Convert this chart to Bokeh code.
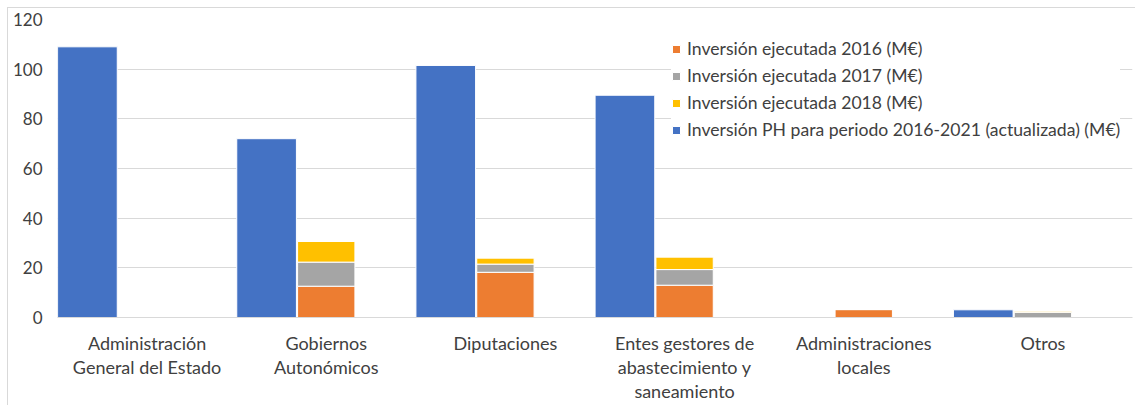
from bokeh.plotting import figure
from bokeh.models import ColumnDataSource, Legend, FactorRange
from bokeh.transform import dodge
from bokeh.embed import file_html
from bokeh.resources import INLINE

categories = ["Administración\nGeneral del Estado", "Gobiernos\nAutonómicos", "Diputaciones",
              "Entes gestores de\nabastecimiento y\nsaneamiento", "Administraciones\nlocales", "Otros"]
ph_2016_2021 = [109.0, 72.0, 101.5, 89.5, 0.0, 3.1]
ejec_2016 = [0.0, 12.6, 18.2, 13.0, 3.2, 0.0]
ejec_2017 = [0.0, 9.7, 3.3, 6.3, 0.0, 2.1]
ejec_2018 = [0.0, 8.3, 2.4, 5.0, 0.0, 0.4]
y_ticks = [0, 20, 40, 60, 80, 100, 120]

series_names = ["Inversión ejecutada 2016 (M€)", "Inversión ejecutada 2017 (M€)",
                "Inversión ejecutada 2018 (M€)", "Inversión PH para periodo 2016-2021 (actualizada) (M€)"]
colors = ["#ED7D31", "#A5A5A5", "#FFC000", "#4472C4"]

src = ColumnDataSource(dict(cat=categories, ph=ph_2016_2021, e16=ejec_2016, e17=ejec_2017, e18=ejec_2018))

FONT = "Lato"

p = figure(x_range=FactorRange(*categories), y_range=(0, 120), width=1128, height=398,
           output_backend="svg", toolbar_location=None,
           min_border_left=49, min_border_right=4, min_border_top=11, min_border_bottom=89)
p.styles = {"margin-left": "7px", "margin-top": "7px",
            "border-left": "1px solid #d9d9d9", "border-top": "1px solid #d9d9d9"}

stack_r = p.vbar_stack(["e16", "e17", "e18"], x=dodge("cat", 0.0, range=p.x_range), width=0.32,
                       source=src, color=colors[:3], line_color="white", line_width=1)
ph_r = p.vbar(x=dodge("cat", -0.333, range=p.x_range), top="ph", width=0.333, source=src,
              color=colors[3], line_color="white", line_width=1)

legend = Legend(items=[(series_names[0], [stack_r[0]]), (series_names[1], [stack_r[1]]),
                       (series_names[2], [stack_r[2]]), (series_names[3], [ph_r])],
                location=(614, 177))
legend.padding = 0
legend.margin = 0
legend.border_line_color = None
legend.background_fill_color = "white"
legend.background_fill_alpha = 1
legend.glyph_width = 10
legend.glyph_height = 10
legend.label_height = 20
legend.spacing = 6
legend.label_standoff = 6
legend.label_text_font = FONT
legend.label_text_font_size = "17.6px"
legend.label_text_color = "#404040"
p.add_layout(legend)

p.outline_line_color = None
p.xgrid.grid_line_color = None
p.ygrid.grid_line_color = "#d9d9d9"
p.ygrid.grid_line_width = 1
p.yaxis.ticker = y_ticks
p.yaxis.axis_line_color = None
p.yaxis.major_tick_line_color = None
p.yaxis.minor_tick_line_color = None
p.yaxis.major_tick_out = 0
p.yaxis.major_tick_in = 0
p.yaxis.major_label_standoff = 15
p.yaxis.major_label_text_font = FONT
p.yaxis.major_label_text_font_size = "17px"
p.yaxis.major_label_text_color = "#404040"

p.xaxis.axis_line_color = "#d9d9d9"
p.xaxis.major_tick_line_color = None
p.xaxis.minor_tick_line_color = None
p.xaxis.major_tick_out = 0
p.xaxis.major_tick_in = 0
p.xaxis.major_label_standoff = 14
p.xaxis.major_label_text_font = FONT
p.xaxis.major_label_text_font_size = "18px"
p.xaxis.major_label_text_color = "#404040"
p.xaxis.major_label_text_line_height = 1.1

open("out.html", "w").write(file_html(p, INLINE))
